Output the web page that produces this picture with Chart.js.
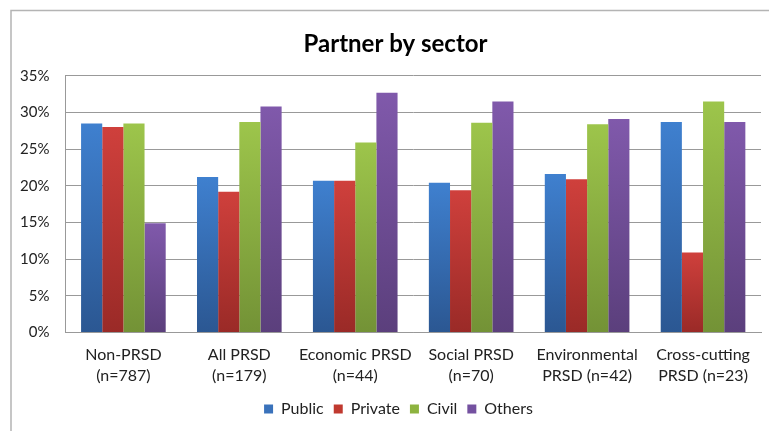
<!DOCTYPE html>
<html>
<head>
<meta charset="utf-8">
<script src="https://cdn.jsdelivr.net/npm/chart.js@4/dist/chart.umd.min.js"></script>
<style>
html,body{margin:0;padding:0;background:#fff;}
#wrap{position:relative;width:769px;height:431px;}
</style>
</head>
<body>
<div id="wrap"><canvas id="c" width="769" height="431"></canvas></div>
<script>
const categories = [
  ["Non-PRSD","(n=787)"],
  ["All PRSD","(n=179)"],
  ["Economic PRSD","(n=44)"],
  ["Social PRSD","(n=70)"],
  ["Environmental","PRSD (n=42)"],
  ["Cross-cutting","PRSD (n=23)"]
];
const seriesNames = ["Public","Private","Civil","Others"];
const publicVals  = [28.5, 21.2, 20.7, 20.4, 21.6, 28.7];
const privateVals = [28.0, 19.2, 20.7, 19.4, 20.9, 10.9];
const civilVals   = [28.5, 28.7, 25.9, 28.6, 28.4, 31.5];
const othersVals  = [14.9, 30.8, 32.7, 31.5, 29.1, 28.7];
const yTicks = [0,5,10,15,20,25,30,35];

const palette = [
  {top:'#3f80cf', bot:'#2b5792', mid:'#3a72bb'},
  {top:'#cf403c', bot:'#9a2a27', mid:'#c0392f'},
  {top:'#9dc54b', bot:'#739236', mid:'#8db33f'},
  {top:'#8059ab', bot:'#5b3f7c', mid:'#7451a0'}
];

function grad(i){
  return function(ctx){
    const chart = ctx.chart;
    const area = chart.chartArea;
    if(!area || ctx.type !== 'data') return palette[i].mid;
    const y = chart.scales.y;
    const v = ctx.raw;
    const top = y.getPixelForValue(v);
    const bot = y.getPixelForValue(0);
    if(!isFinite(top) || top === bot) return palette[i].mid;
    const g = chart.ctx.createLinearGradient(0, top, 0, bot);
    g.addColorStop(0, palette[i].top);
    g.addColorStop(1, palette[i].bot);
    return g;
  };
}

const vals = [publicVals, privateVals, civilVals, othersVals];
const datasets = seriesNames.map((n,i)=>({
  label:n,
  data:vals[i],
  backgroundColor:grad(i),
  borderWidth:0,
  categoryPercentage:0.73,
  barPercentage:1.0
}));

const frame = {
  id:'frame',
  afterLayout(chart){
    if(chart.titleBlock){ chart.titleBlock.left += 26; }
    if(chart.legend){
      chart.legend.top -= 7; chart.legend.bottom -= 7;
      chart.legend.left += 16; chart.legend.right += 16;
    }
  },
  beforeDraw(chart){
    const c = chart.ctx;
    c.save();
    c.fillStyle = '#fff';
    c.fillRect(0,0,chart.width,chart.height);
    c.strokeStyle = '#b4b4b4';
    c.lineWidth = 1.5;
    c.strokeRect(11, 10.5, 900, 600);
    c.restore();
  }
};

const FONT = 'Lato, "Open Sans", sans-serif';
new Chart(document.getElementById('c'), {
  type:'bar',
  data:{labels:categories, datasets},
  plugins:[frame],
  options:{
    responsive:false,
    animation:false,
    layout:{padding:{left:4,right:8,top:30,bottom:-3}},
    plugins:{
      title:{display:true,text:'Partner by sector',color:'#000',
        font:{family:FONT,size:24,weight:'bold'},padding:{top:0,bottom:17}},
      legend:{position:'bottom',
        labels:{color:'#222',font:{family:FONT,size:16},boxWidth:9,boxHeight:9,padding:10,
          generateLabels(chart){
            return seriesNames.map((n,i)=>({text:n,fillStyle:palette[i].mid,strokeStyle:palette[i].mid,lineWidth:0,datasetIndex:i,fontColor:'#222'}));
          }}},
      tooltip:{enabled:false}
    },
    scales:{
      x:{
        grid:{display:false,drawTicks:false},
        border:{display:true,color:'#999',width:1},
        ticks:{color:'#222',font:{family:FONT,size:16,lineHeight:1.3},padding:12,maxRotation:0,autoSkip:false}
      },
      y:{
        min:0,max:35,
        afterBuildTicks(axis){axis.ticks = yTicks.map(v=>({value:v}));},
        grid:{color:'#999',lineWidth:1,drawTicks:false},
        border:{display:true,color:'#999',width:1},
        ticks:{color:'#222',font:{family:FONT,size:15},padding:16,callback:v=>v+'%'}
      }
    }
  }
});
</script>
</body>
</html>
